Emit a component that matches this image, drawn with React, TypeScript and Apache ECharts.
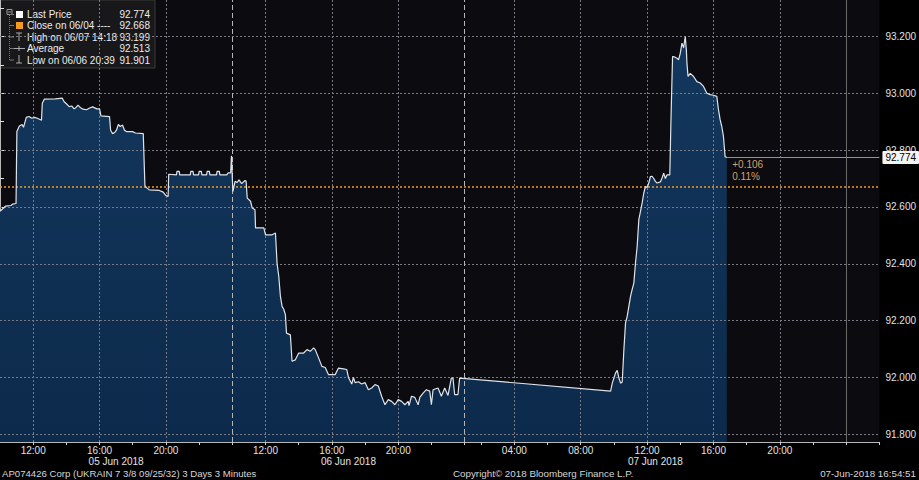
import React, { useEffect, useRef } from "react";
import * as echarts from "echarts";

const FONT = '"Liberation Sans", Arial, sans-serif';

// trading sessions shown on the axis (hours outside them are skipped)
const sessions = [
  { day: "06-05", dateLabel: "05 Jun 2018", start: 10, end: 24 },
  { day: "06-06", dateLabel: "06 Jun 2018", start: 10, end: 24 },
  { day: "06-07", dateLabel: "07 Jun 2018", start: 1, end: 24 },
  { day: "06-08", dateLabel: "", start: 0, end: 2 },
];

const jun05Times = ["10:00","10:15","10:20","10:40","10:45","10:58","11:01","11:10","11:20","11:25","11:35","11:45","11:55","12:05","12:15","12:30","12:33","12:40","13:20","13:45","13:52","14:01","14:10","14:20","14:28","14:35","14:42","14:50","15:00","15:13","15:24","15:35","15:50","16:00","16:05","16:36","16:40","16:47","16:55","17:01","17:08","17:15","17:23","17:30","17:37","17:59","18:10","18:38","18:44","18:50","19:00","19:36","19:50","20:00","20:08","20:10","20:38","20:40","20:48","20:50","21:28","21:30","21:38","21:40","21:58","22:00","22:08","22:10","22:27","22:29","22:37","22:39","23:03","23:05","23:13","23:15","23:40","23:45","23:54","23:57"];
const jun05Prices = [92.585,92.598,92.603,92.605,92.610,92.612,92.865,92.885,92.890,92.880,92.915,92.918,92.912,92.915,92.912,92.905,92.965,92.979,92.980,92.983,92.970,92.962,92.953,92.955,92.945,92.950,92.958,92.950,92.944,92.942,92.948,92.952,92.945,92.945,92.920,92.918,92.870,92.858,92.862,92.870,92.890,92.883,92.888,92.870,92.865,92.865,92.860,92.858,92.675,92.668,92.660,92.658,92.652,92.640,92.637,92.715,92.713,92.725,92.725,92.713,92.713,92.725,92.725,92.713,92.713,92.725,92.725,92.713,92.713,92.725,92.725,92.713,92.713,92.725,92.725,92.713,92.713,92.720,92.720,92.780];

const jun06Times = ["10:02","10:10","10:18","10:24","10:34","10:46","10:50","10:54","11:06","11:12","11:22","11:24","11:54","12:00","12:24","12:36","12:42","12:48","12:54","13:00","13:06","13:12","13:16","13:30","13:36","13:48","14:00","14:18","14:30","14:42","14:54","15:00","15:12","15:24","15:36","15:48","16:12","16:24","16:42","16:54","17:00","17:12","17:18","17:24","17:36","17:48","18:00","18:12","18:24","18:36","18:48","19:00","19:12","19:24","19:36","19:48","20:00","20:12","20:24","20:36","20:39","20:48","21:00","21:12","21:18","21:30","21:42","21:54","22:00","22:06","22:24","22:36","22:48","23:00","23:12","23:18","23:24","23:36","23:42"];
const jun06Prices = [92.654,92.690,92.686,92.695,92.682,92.693,92.690,92.631,92.620,92.596,92.590,92.526,92.526,92.502,92.502,92.508,92.400,92.356,92.285,92.250,92.240,92.221,92.156,92.150,92.057,92.062,92.086,92.086,92.098,92.092,92.104,92.098,92.069,92.039,92.035,92.010,92.010,92.033,92.030,92.028,92.000,91.977,92.000,91.982,91.985,91.977,91.982,91.957,91.963,91.975,91.970,91.934,91.904,91.922,91.916,91.904,91.922,91.916,91.904,91.916,91.901,91.934,91.930,91.904,91.930,91.945,91.957,91.952,91.904,91.957,91.963,91.934,91.963,91.937,91.998,91.998,91.940,91.940,91.998];

const jun07Times = ["09:48","09:54","10:06","10:12","10:18","10:24","10:30","10:36","10:42","10:48","10:54","11:00","11:06","11:12","11:18","11:24","11:30","11:36","11:42","11:48","11:54","12:00","12:06","12:12","12:18","12:24","12:30","12:36","12:48","12:54","13:00","13:06","13:12","13:22","13:26","13:32","13:36","13:48","13:54","14:00","14:06","14:12","14:18","14:22","14:24","14:28","14:36","14:48","15:00","15:12","15:24","15:36","15:48","16:00","16:12","16:18","16:24","16:30","16:36","16:42","16:48"];
const jun07Prices = [91.952,91.980,92.016,92.025,91.998,91.980,91.984,92.098,92.192,92.215,92.250,92.285,92.310,92.332,92.403,92.461,92.555,92.584,92.614,92.649,92.672,92.668,92.684,92.707,92.708,92.700,92.690,92.684,92.688,92.702,92.719,92.700,92.713,92.713,92.895,93.129,93.129,93.123,93.118,93.141,93.176,93.160,93.199,93.150,93.106,93.059,93.070,93.059,93.041,93.036,93.024,93.000,92.995,92.993,92.989,92.942,92.907,92.883,92.848,92.777,92.774];

const yLabelValues = [91.8, 92.0, 92.2, 92.4, 92.6, 92.8, 93.0, 93.2];
const yTickValues = [91.8, 91.9, 92.0, 92.1, 92.2, 92.3, 92.4, 92.5, 92.6, 92.7, 92.8, 92.9, 93.0, 93.1, 93.2, 93.3];

const lastPrice = 92.774;
const closePrice = 92.668;
const highPrice = 93.199;
const avgPrice = 92.513;
const lowPrice = 91.901;
const legendRows = [
  { name: "Last Price", value: lastPrice },
  { name: "Close on 06/04 ----", value: closePrice },
  { name: "High on 06/07 14:18", value: highPrice },
  { name: "Average", value: avgPrice },
  { name: "Low on 06/06 20:39", value: lowPrice },
];
const securityText = "AP074426 Corp (UKRAIN 7 3/8 09/25/32) 3 Days 3 Minutes";
const copyrightText = "Copyright\u00A9 2018 Bloomberg Finance L.P.";
const timestampText = "07-Jun-2018 16:54:51";

// ---------- helpers ----------
function sessionOffset(i: number) {
  let o = 0;
  for (let k = 0; k < i; k++) o += sessions[k].end - sessions[k].start;
  return o;
}
function toX(day: string, hhmm: string) {
  const i = sessions.findIndex((s) => s.day === day);
  const [h, m] = hhmm.split(":").map(Number);
  return sessionOffset(i) + h + m / 60 - sessions[i].start;
}
function fromX(v: number) {
  for (let i = 0; i < sessions.length; i++) {
    const off = sessionOffset(i);
    const len = sessions[i].end - sessions[i].start;
    if (v < off + len - 1e-6 || i === sessions.length - 1) {
      return { i, hour: sessions[i].start + (v - off) };
    }
  }
  return { i: 0, hour: 0 };
}
const pad = (n: number) => (n < 10 ? "0" + n : "" + n);

const X_MAX = sessionOffset(sessions.length);
const Y_MIN = 91.773;
const Y_MAX = 93.328;

function buildSeries() {
  const out: number[][] = [];
  const add = (day: string, t: string[], p: number[]) =>
    t.forEach((tt, k) => out.push([toX(day, tt), p[k]]));
  add("06-05", jun05Times, jun05Prices);
  add("06-06", jun06Times, jun06Prices);
  add("06-07", jun07Times, jun07Prices);
  return out;
}

const priceData = buildSeries();

const xTickValues: number[] = [];
const xLabelValues: number[] = [];
const dateValues: number[] = [];
sessions.forEach((s, i) => {
  const off = sessionOffset(i);
  for (let h = s.start + 1; h <= s.end; h++) {
    if (h % 2 === 0) xTickValues.push(off + h - s.start);
    if (h % 4 === 0 && h < s.end) xLabelValues.push(off + h - s.start);
  }
  if (s.dateLabel) dateValues.push(off + (s.end - s.start) / 2);
});
const boundaryValues = sessions.slice(1).map((_, i) => sessionOffset(i + 1));

export default function App() {
  const ref = useRef<HTMLDivElement>(null);
  useEffect(() => {
    document.body.style.margin = "0";
    document.body.style.background = "#000";
    const chart = echarts.init(ref.current!, null, { renderer: "svg" });
    const last = priceData[priceData.length - 1];
    const change = lastPrice - closePrice;
    const changeText =
      (change >= 0 ? "+" : "") + change.toFixed(3) + "\n" + ((change / closePrice) * 100).toFixed(2) + "%";

    const gridLine = { color: "#7a7a84", width: 1, type: [2, 2] };
    const markLines: any[] = [];
    yLabelValues.forEach((v) => markLines.push({ yAxis: v, lineStyle: { ...gridLine } }));
    xLabelValues.forEach((v) => markLines.push({ xAxis: v, lineStyle: { ...gridLine } }));
    boundaryValues.forEach((v) => {
      const { i } = fromX(v + 0.001);
      const gap = sessions[i].start !== 0;
      markLines.push({
        xAxis: v,
        lineStyle: gap
          ? { color: "#b5b5b5", width: 1, type: [5, 3] }
          : { color: "#6a6a6a", width: 1, type: "solid" },
      });
    });
    markLines.push({ yAxis: closePrice, lineStyle: { color: "#f19a2c", width: 1.6, type: [2, 2] } });
    markLines.push([
      {
        coord: [last[0], lastPrice],
        lineStyle: { color: "#c98550", width: 1.2, type: "solid" },
        label: {
          show: true,
          position: "end",
          distance: 3,
          formatter: lastPrice.toFixed(3),
          backgroundColor: "#f4f4f4",
          color: "#000",
          fontSize: 10,
          fontFamily: FONT,
          padding: [2, 3, 1, 3],
          borderRadius: 1,
        },
      },
      { coord: [X_MAX, lastPrice] },
    ]);

    const legendEls: any[] = [
      {
        type: "rect",
        shape: { x: 0, y: 0, width: 155, height: 68 },
        style: { fill: "rgba(26,26,28,0.93)", stroke: "#3a3a3a", lineWidth: 1 },
      },
      { type: "rect", shape: { x: 7, y: 9.5, width: 5, height: 5 }, style: { fill: "none", stroke: "#999", lineWidth: 1 } },
      { type: "line", shape: { x1: 8, y1: 12, x2: 11, y2: 12 }, style: { stroke: "#999", lineWidth: 1 } },
      { type: "line", shape: { x1: 9.5, y1: 15, x2: 9.5, y2: 60 }, style: { stroke: "#777", lineWidth: 1, lineDash: [1, 1] } },
      { type: "rect", shape: { x: 16, y: 11, width: 7, height: 7 }, style: { fill: "#ffffff" } },
      { type: "rect", shape: { x: 16, y: 22, width: 7, height: 7 }, style: { fill: "#f39c1f" } },
      { type: "line", shape: { x1: 16, y1: 33, x2: 22, y2: 33 }, style: { stroke: "#aaa", lineWidth: 1 } },
      { type: "line", shape: { x1: 19, y1: 33, x2: 19, y2: 41 }, style: { stroke: "#aaa", lineWidth: 1 } },
      { type: "line", shape: { x1: 13, y1: 48.5, x2: 25, y2: 48.5 }, style: { stroke: "#aaa", lineWidth: 1 } },
      { type: "line", shape: { x1: 19, y1: 46, x2: 19, y2: 51 }, style: { stroke: "#aaa", lineWidth: 1 } },
      { type: "line", shape: { x1: 19, y1: 55, x2: 19, y2: 63 }, style: { stroke: "#aaa", lineWidth: 1 } },
      { type: "line", shape: { x1: 16, y1: 63, x2: 22, y2: 63 }, style: { stroke: "#aaa", lineWidth: 1 } },
    ];
    const rowY = [14.5, 25.5, 37, 48.5, 60];
    legendRows.forEach((r, k) => {
      legendEls.push({ type: "line", shape: { x1: 9.5, y1: rowY[k], x2: 14, y2: rowY[k] }, style: { stroke: "#777", lineWidth: 1 } });
      legendEls.push({
        type: "text",
        style: { text: r.name, x: 27, y: rowY[k], fill: "#ececec", font: "10px " + FONT, align: "left", verticalAlign: "middle", textAlign: "left", textVerticalAlign: "middle" },
      });
      legendEls.push({
        type: "text",
        style: { text: r.value.toFixed(3), x: 150, y: rowY[k], fill: "#ececec", font: "10px " + FONT, align: "right", verticalAlign: "middle", textAlign: "right", textVerticalAlign: "middle" },
      });
    });

    const footStyle = (text: string, x: number, align: string, size: number) => ({
      type: "text",
      style: { text, x, y: 473, fill: "#d6d6d6", font: size + "px " + FONT, align, verticalAlign: "middle", textAlign: align, textVerticalAlign: "middle" },
    });

    chart.setOption({
      animation: false,
      backgroundColor: "#000",
      textStyle: { fontFamily: FONT },
      grid: { left: 0, right: 37, top: 0, bottom: 38, show: true, backgroundColor: "#0b0b10", borderWidth: 0 },
      xAxis: [
        {
          type: "value",
          min: 0,
          max: X_MAX,
          position: "bottom",
          axisLine: { show: true, lineStyle: { color: "#b8b8b8", width: 1 } },
          axisTick: { show: true, customValues: xTickValues, length: 3, lineStyle: { color: "#d0d0d0" } },
          axisLabel: {
            customValues: xLabelValues,
            color: "#e2e2e2",
            fontSize: 10,
            fontFamily: FONT,
            margin: 3,
            formatter: (v: number) => {
              const { hour } = fromX(v);
              const hh = Math.round(hour) % 24;
              return pad(hh) + ":00";
            },
          },
          splitLine: { show: false },
        },
        {
          type: "value",
          min: 0,
          max: X_MAX,
          position: "bottom",
          offset: 0,
          axisLine: { show: false },
          axisTick: { show: false },
          axisLabel: {
            customValues: dateValues,
            color: "#e2e2e2",
            fontSize: 10,
            fontFamily: FONT,
            margin: 14,
            formatter: (v: number) => sessions[fromX(v).i].dateLabel,
          },
          splitLine: { show: false },
        },
      ],
      yAxis: {
        type: "value",
        position: "right",
        min: Y_MIN,
        max: Y_MAX,
        axisLine: { show: true, lineStyle: { color: "#b8b8b8", width: 1 } },
        axisTick: { show: true, customValues: yTickValues, length: 4, lineStyle: { color: "#e0e0e0" } },
        axisLabel: {
          customValues: yLabelValues,
          color: "#e2e2e2",
          fontSize: 10,
          fontFamily: FONT,
          margin: 6,
          formatter: (v: number) => v.toFixed(3),
        },
        splitLine: { show: false },
      },
      series: [
        {
          type: "line",
          data: priceData,
          symbol: "none",
          showSymbol: false,
          z: 2,
          lineStyle: { width: 0 },
          areaStyle: {
            opacity: 1,
            color: new echarts.graphic.LinearGradient(0, 0, 0, 1, [
              { offset: 0, color: "#13375d" },
              { offset: 1, color: "#0c2a4b" },
            ]),
          },
          markLine: { silent: true, z: 4, symbol: ["none", "none"], label: { show: false }, data: markLines },
        },
        {
          type: "line",
          data: priceData,
          symbol: "none",
          showSymbol: false,
          z: 6,
          lineStyle: { color: "#dfe4ea", width: 1.2 },
          markPoint: {
            z: 7,
            data: [
              {
                coord: [last[0], lastPrice],
                symbol: "rect",
                symbolSize: 1,
                itemStyle: { color: "rgba(0,0,0,0)" },
                label: {
                  show: true,
                  position: [6, 2],
                  formatter: changeText,
                  color: "#d9a066",
                  fontSize: 10,
                  fontFamily: FONT,
                  lineHeight: 12,
                  align: "left",
                },
              },
            ],
          },
        },
      ],
      graphic: [
        ...legendEls,
        footStyle(securityText, 2, "left", 9.6),
        footStyle(copyrightText, 453, "left", 9.8),
        footStyle(timestampText, 916, "right", 9.8),
      ],
    });
    return () => chart.dispose();
  }, []);
  return <div ref={ref} style={{ position: "absolute", left: 0, top: 0, width: 919, height: 480 }} />;
}
